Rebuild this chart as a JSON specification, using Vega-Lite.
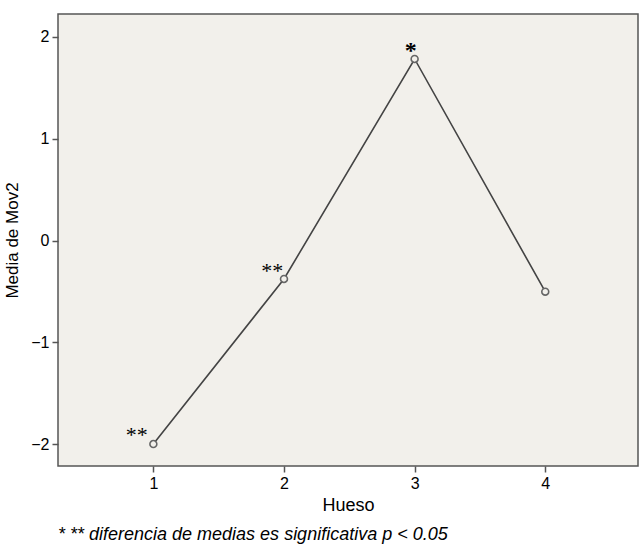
{
  "$schema": "https://vega.github.io/schema/vega-lite/v6.json",
  "width": 580,
  "height": 452,
  "autosize": "none",
  "padding": {"left": 58, "top": 14, "right": 2, "bottom": 79},
  "background": "#ffffff",
  "config": {
    "view": {"fill": "#f2f0eb", "stroke": "#555555", "strokeWidth": 1.5},
    "font": "Liberation Sans"
  },
  "title": {
    "text": "* ** diferencia de medias es significativa p < 0.05",
    "orient": "bottom",
    "anchor": "start",
    "frame": "group",
    "font": "Liberation Sans",
    "fontSize": 18,
    "fontStyle": "italic",
    "fontWeight": "normal",
    "color": "#000000",
    "offset": 12
  },
  "datasets": {
    "means": [
      {"Hueso": 1, "Media": -2.0},
      {"Hueso": 2, "Media": -0.378},
      {"Hueso": 3, "Media": 1.784},
      {"Hueso": 4, "Media": -0.503}
    ],
    "labels": [
      {"Hueso": 0.872, "Media": -1.89, "label": "**"},
      {"Hueso": 1.911, "Media": -0.283, "label": "**"},
      {"Hueso": 2.97, "Media": 1.879, "label": "*"}
    ]
  },
  "encoding": {
    "x": {
      "field": "Hueso",
      "type": "quantitative",
      "scale": {"domain": [0.27, 4.71], "nice": false, "zero": false},
      "axis": {
        "values": [1, 2, 3, 4],
        "title": "Hueso",
        "grid": false,
        "domain": false,
        "tickColor": "#555555",
        "tickSize": 6,
        "tickWidth": 1.5,
        "labelFontSize": 16,
        "labelColor": "#000000",
        "labelFont": "Liberation Sans",
        "titleFontSize": 18,
        "titleFontWeight": "normal",
        "titleColor": "#000000",
        "titleFont": "Liberation Sans",
        "labelPadding": 3,
        "titlePadding": 5
      }
    },
    "y": {
      "field": "Media",
      "type": "quantitative",
      "scale": {"domain": [-2.216, 2.226], "nice": false, "zero": false},
      "axis": {
        "values": [-2, -1, 0, 1, 2],
        "title": "Media de Mov2",
        "grid": false,
        "domain": false,
        "tickColor": "#555555",
        "tickSize": 6,
        "tickWidth": 1.5,
        "labelFontSize": 16,
        "labelColor": "#000000",
        "labelFont": "Liberation Sans",
        "labelPadding": 3,
        "titleFontSize": 17,
        "titleFontWeight": "normal",
        "titleColor": "#000000",
        "titleFont": "Liberation Sans",
        "titlePadding": 9
      }
    }
  },
  "layer": [
    {
      "data": {"name": "means"},
      "mark": {"type": "line", "color": "#444444", "strokeWidth": 1.6}
    },
    {
      "data": {"name": "means"},
      "mark": {"type": "point", "shape": "circle", "filled": false, "size": 48, "stroke": "#666666", "strokeWidth": 1.6, "fill": "#f2f0eb", "fillOpacity": 1}
    },
    {
      "data": {"name": "labels"},
      "transform": [{"filter": "datum.label === '**'"}],
      "mark": {"type": "text", "font": "Liberation Serif", "fontSize": 22, "color": "#000000", "baseline": "middle", "align": "center", "dy": 2},
      "encoding": {"text": {"field": "label"}}
    },
    {
      "data": {"name": "labels"},
      "transform": [{"filter": "datum.label === '*'"}],
      "mark": {"type": "text", "font": "Liberation Serif", "fontSize": 24, "fontWeight": "bold", "color": "#000000", "baseline": "middle", "align": "center", "dy": 2},
      "encoding": {"text": {"field": "label"}}
    }
  ]
}
